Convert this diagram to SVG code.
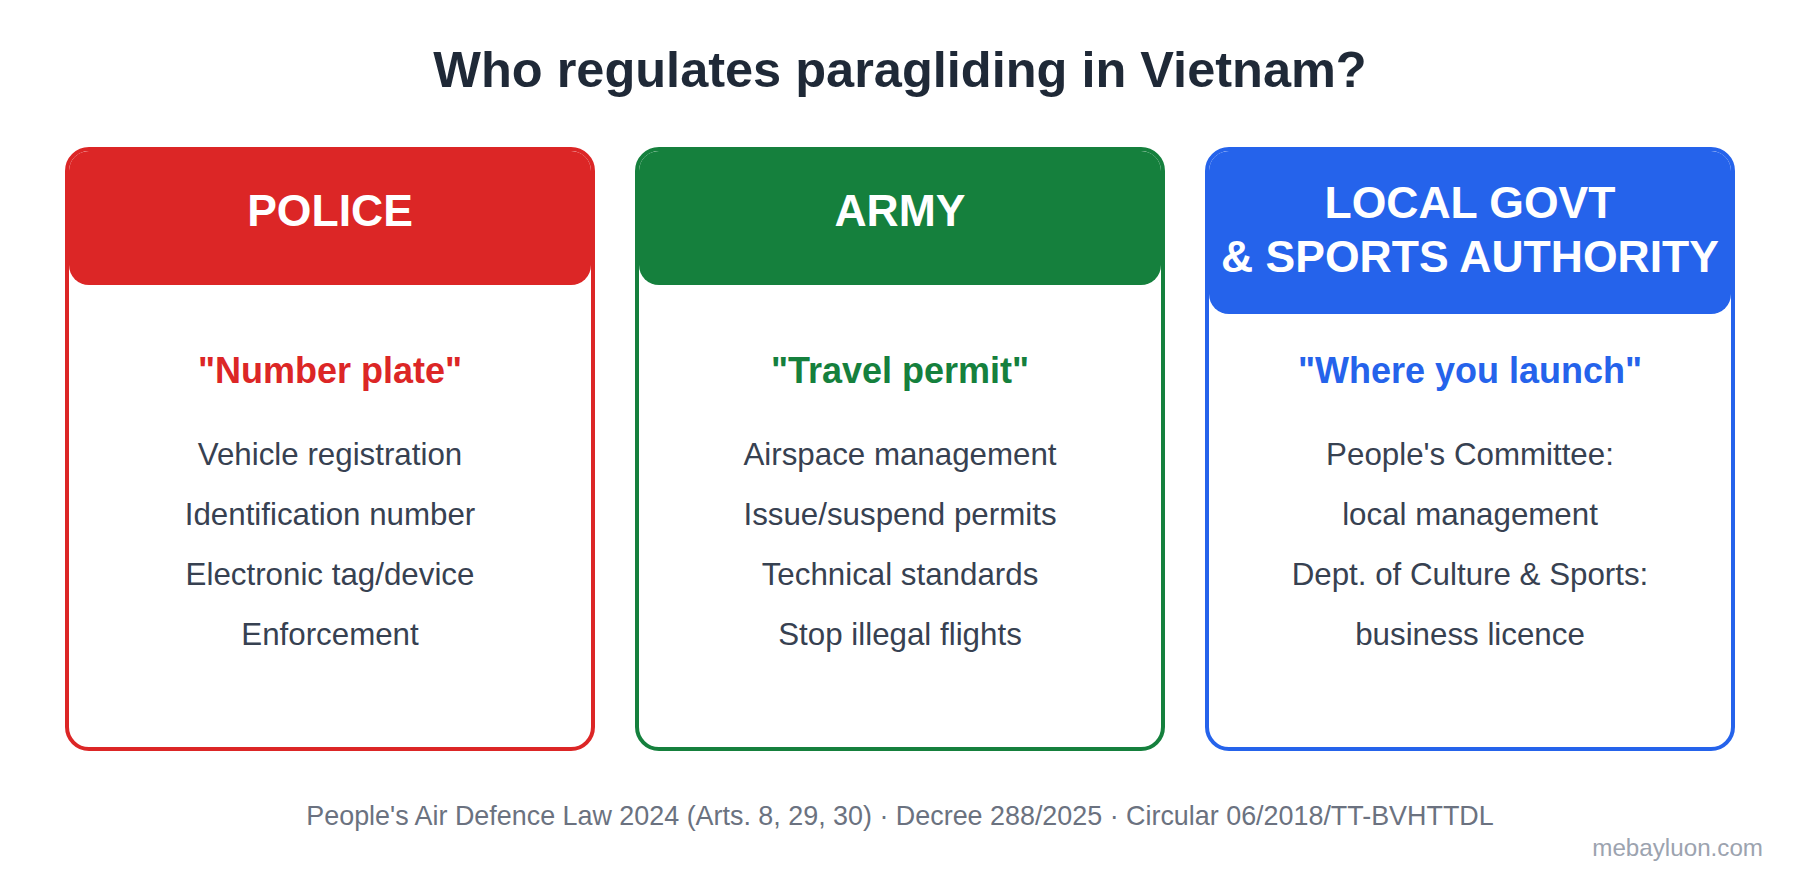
<svg xmlns="http://www.w3.org/2000/svg" width="1800" height="885" viewBox="0 0 1800 885">
<style>
.card{fill:#ffffff;stroke-width:4}
.ht{font-family:"Liberation Sans",Arial,sans-serif;font-weight:bold;font-size:44.5px;fill:#ffffff;text-anchor:middle}
.sub{font-family:"Liberation Sans",Arial,sans-serif;font-weight:bold;font-size:36px;text-anchor:middle}
.item{font-family:"Liberation Sans",Arial,sans-serif;font-size:31.3px;fill:#374151;text-anchor:middle}
.title{font-family:"Liberation Sans",Arial,sans-serif;font-weight:bold;font-size:50.5px;fill:#1f2937;text-anchor:middle}
.foot{font-family:"Liberation Sans",Arial,sans-serif;font-size:26.9px;fill:#6b7280;text-anchor:middle}
.mark{font-family:"Liberation Sans",Arial,sans-serif;font-size:24.2px;fill:#9ca3af;text-anchor:end}
</style>
<rect width="1800" height="885" fill="#ffffff"/>
<text class="title" x="900" y="87">Who regulates paragliding in Vietnam?</text>

<g id="police">
<rect class="card" x="67" y="149" width="526" height="600" rx="22" stroke="#dc2626"/>
<rect x="69" y="151" width="522" height="134" rx="20" fill="#dc2626"/>
<text class="ht" x="330" y="226">POLICE</text>
<text class="sub" x="330" y="383" fill="#dc2626">"Number plate"</text>
<text class="item" x="330" y="465">Vehicle registration</text>
<text class="item" x="330" y="525">Identification number</text>
<text class="item" x="330" y="585">Electronic tag/device</text>
<text class="item" x="330" y="645">Enforcement</text>
</g>

<g id="army">
<rect class="card" x="637" y="149" width="526" height="600" rx="22" stroke="#15803d"/>
<rect x="639" y="151" width="522" height="134" rx="20" fill="#15803d"/>
<text class="ht" x="900" y="226">ARMY</text>
<text class="sub" x="900" y="383" fill="#15803d">"Travel permit"</text>
<text class="item" x="900" y="465">Airspace management</text>
<text class="item" x="900" y="525">Issue/suspend permits</text>
<text class="item" x="900" y="585">Technical standards</text>
<text class="item" x="900" y="645">Stop illegal flights</text>
</g>

<g id="local">
<rect class="card" x="1207" y="149" width="526" height="600" rx="22" stroke="#2563eb"/>
<rect x="1209" y="151" width="522" height="163" rx="20" fill="#2563eb"/>
<text class="ht" x="1470" y="218">LOCAL GOVT</text>
<text class="ht" x="1470" y="271.5">&amp; SPORTS AUTHORITY</text>
<text class="sub" x="1470" y="383" fill="#2563eb">"Where you launch"</text>
<text class="item" x="1470" y="465">People's Committee:</text>
<text class="item" x="1470" y="525">local management</text>
<text class="item" x="1470" y="585">Dept. of Culture &amp; Sports:</text>
<text class="item" x="1470" y="645">business licence</text>
</g>

<g id="connectors"></g>

<text class="foot" x="900" y="825">People's Air Defence Law 2024 (Arts. 8, 29, 30) · Decree 288/2025 · Circular 06/2018/TT-BVHTTDL</text>
<text class="mark" x="1763" y="856">mebayluon.com</text>
</svg>
